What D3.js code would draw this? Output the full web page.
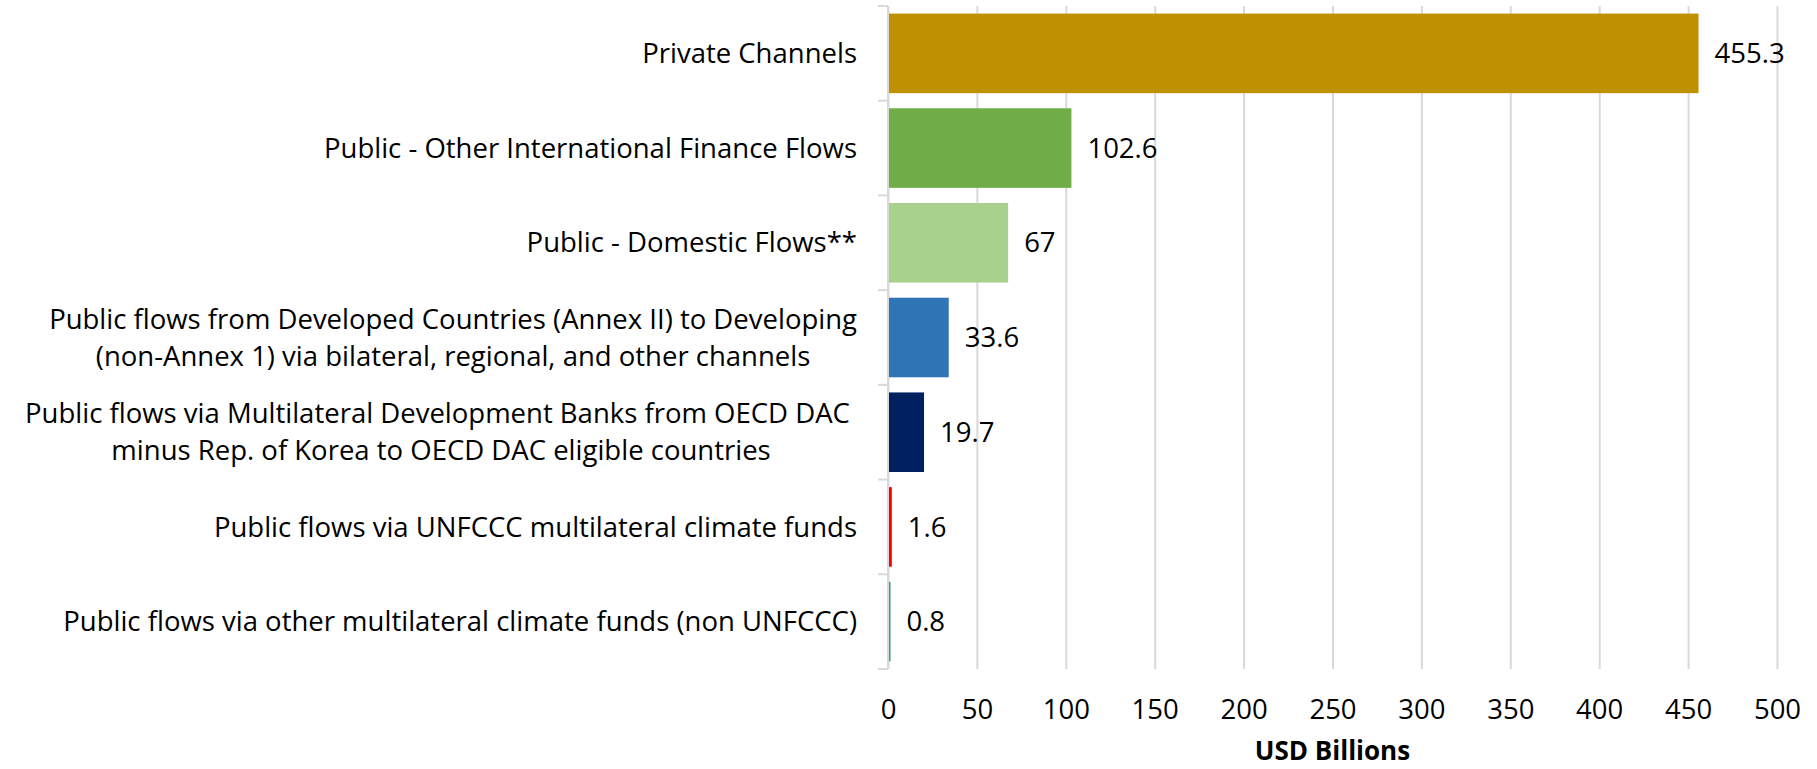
<!DOCTYPE html>
<html>
<head>
<meta charset="utf-8">
<script src="https://cdn.jsdelivr.net/npm/d3@7"></script>
<style>
  body { margin: 0; background: #fff; }
  text { font-family: "Open Sans", "Noto Sans", sans-serif; fill: #000; }
</style>
</head>
<body>
<svg width="1817" height="769"></svg>
<script>
// data
const categories = [
  ["Private Channels"],
  ["Public - Other International Finance Flows"],
  ["Public - Domestic Flows**"],
  ["Public flows from Developed Countries (Annex II) to Developing", "(non-Annex 1) via bilateral, regional, and other channels"],
  ["Public flows via Multilateral Development Banks from OECD DAC\u00a0", "minus Rep. of Korea to OECD DAC eligible countries"],
  ["Public flows via UNFCCC multilateral climate funds"],
  ["Public flows via other multilateral climate funds (non UNFCCC)"]
];
const values = [455.3, 102.6, 67, 33.6, 19.7, 1.6, 0.8];
const valueLabels = ["455.3", "102.6", "67", "33.6", "19.7", "1.6", "0.8"];
const barColors = ["#BF9000", "#70AD47", "#A9D18E", "#2E75B6", "#002060", "#FF0000", "#33A56C"];
const xTicks = [0, 50, 100, 150, 200, 250, 300, 350, 400, 450, 500];
const xTitle = "USD Billions";

const svg = d3.select('svg');
const margin = { top: 6, left: 888, right: 40, bottom: 100 };
const width = +svg.attr('width') - margin.left - margin.right;
const height = +svg.attr('height') - margin.top - margin.bottom;
const fontSize = "27.5px";

const g = svg.append("g").attr("transform", `translate(${margin.left}, ${margin.top})`);

const x = d3.scaleLinear().domain([0, 500]).range([0, width]);
const y = d3.scaleBand().domain(d3.range(categories.length)).range([0, height]).paddingInner(0.16).paddingOuter(0.08);

// gridlines + tick labels
const xAxis = d3.axisBottom(x).tickValues(xTicks).tickSize(height).tickPadding(30);
g.append("g")
    .attr("class", "axis axis--x")
    .call(xAxis)
    .call(ax => {
        ax.select(".domain").remove();
        ax.selectAll(".tick line").attr("stroke", "#d9d9d9").attr("stroke-width", 2);
        ax.selectAll(".tick text").style("font-size", fontSize).attr("fill", "#000");
    });

// category axis line with outer ticks at band boundaries
const step = y.step();
const bounds = d3.range(categories.length + 1).map(i => i * step);
g.append("line")
    .attr("x1", 0).attr("x2", 0)
    .attr("y1", 0).attr("y2", height)
    .attr("stroke", "#d9d9d9").attr("stroke-width", 2);
g.selectAll(".ytick")
    .data(bounds)
    .enter().append("line")
    .attr("class", "ytick")
    .attr("x1", -10).attr("x2", 0)
    .attr("y1", d => d).attr("y2", d => d)
    .attr("stroke", "#d9d9d9").attr("stroke-width", 2);

// bars
g.selectAll(".bar")
    .data(values)
    .enter().append("rect")
    .attr("class", "bar")
    .attr("x", 1)
    .attr("y", (d, i) => y(i))
    .attr("width", d => Math.max(1.5, x(d)))
    .attr("height", y.bandwidth())
    .attr("fill", (d, i) => barColors[i]);

// value labels
g.selectAll(".val")
    .data(values)
    .enter().append("text")
    .attr("class", "val")
    .attr("x", d => x(d) + 17)
    .attr("y", (d, i) => y(i) + y.bandwidth() / 2)
    .attr("dy", "0.35em")
    .style("font-size", fontSize)
    .text((d, i) => valueLabels[i]);

// category labels, lines centred on each other, block right-aligned
const labelRight = -31;
const lineH = 37;
categories.forEach((lines, i) => {
    const cy = y(i) + y.bandwidth() / 2;
    const grp = g.append("g");
    const texts = lines.map((t, j) => grp.append("text")
        .style("font-size", fontSize)
        .attr("text-anchor", "middle")
        .attr("y", cy + (j - (lines.length - 1) / 2) * lineH)
        .attr("dy", "0.35em")
        .text(t));
    const maxW = d3.max(texts, t => t.node().getComputedTextLength());
    texts.forEach(t => t.attr("x", labelRight - maxW / 2));
});

// axis title
g.append("text")
    .attr("x", width / 2)
    .attr("y", height + 91)
    .attr("text-anchor", "middle")
    .style("font-size", "26px")
    .style("font-weight", "bold")
    .text(xTitle);
</script>
</body>
</html>
